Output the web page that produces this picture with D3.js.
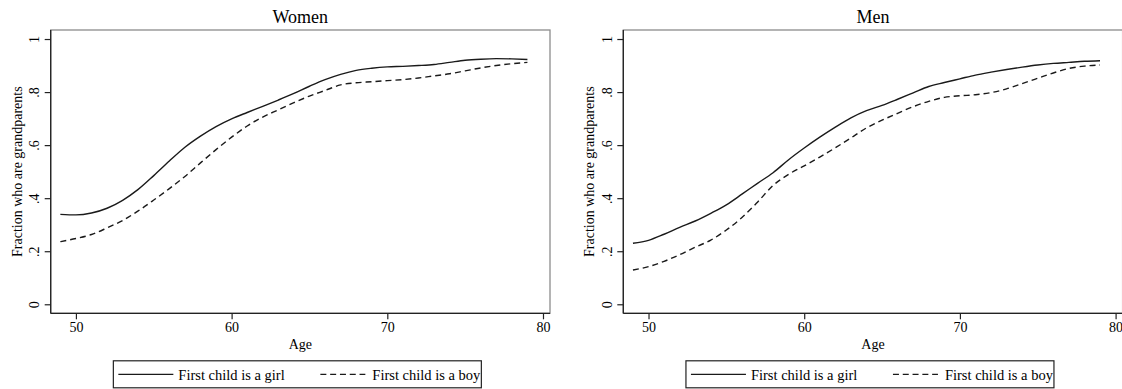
<!DOCTYPE html>
<html>
<head>
<meta charset="utf-8">
<script src="https://cdn.jsdelivr.net/npm/d3@7"></script>
<style>
  body { margin: 0; background: #fff; }
  svg text { font-family: "Liberation Serif", "Times New Roman", serif; fill: #000; }
</style>
</head>
<body>
<div id="chart"></div>
<script>
// --- data ---
const ages = [49,50,51,52,53,54,55,56,57,58,59,60,61,62,63,64,65,66,67,68,69,70,71,72,73,74,75,76,77,78,79];

const womenGirl = [0.339,0.337,0.344,0.362,0.392,0.433,0.485,0.540,0.592,0.634,0.670,0.699,0.723,0.746,0.770,0.795,
  0.822,0.847,0.867,0.882,0.890,0.895,0.897,0.900,0.904,0.912,0.920,0.924,0.926,0.925,0.923];
const womenBoy  = [0.236,0.248,0.263,0.288,0.316,0.352,0.393,0.436,0.482,0.533,0.583,0.630,0.672,0.706,0.733,0.760,
  0.785,0.806,0.827,0.835,0.839,0.843,0.847,0.853,0.861,0.869,0.880,0.891,0.900,0.907,0.912];
const menGirl   = [0.230,0.241,0.264,0.290,0.314,0.343,0.375,0.415,0.456,0.496,0.545,0.589,0.630,0.668,0.703,0.730,
  0.750,0.773,0.797,0.821,0.836,0.850,0.864,0.875,0.885,0.894,0.902,0.908,0.912,0.916,0.918];
const menBoy    = [0.129,0.142,0.162,0.187,0.215,0.242,0.280,0.327,0.385,0.448,0.490,0.522,0.555,0.590,0.627,0.665,
  0.694,0.720,0.745,0.765,0.780,0.786,0.790,0.798,0.812,0.832,0.852,0.872,0.889,0.898,0.902];

const xTicks = [50, 60, 70, 80];
const yTicks = [0, 0.2, 0.4, 0.6, 0.8, 1];
const yTickLabels = ["0", ".2", ".4", ".6", ".8", "1"];
const legendLabels = ["First child is a girl", "First child is a boy"];

// --- layout ---
const W = 1122, H = 389;
const plotW = 499.3, plotH = 283.3, plotTop = 30;
const panels = [
  { title: "Women", left: 50.7, girl: womenGirl, boy: womenBoy },
  { title: "Men",   left: 623.3, girl: menGirl,  boy: menBoy }
];

const svg = d3.select("#chart").append("svg")
  .attr("width", W).attr("height", H);

const x = d3.scaleLinear().domain([48.38, 80.45]).range([0, plotW]);
const y = d3.scaleLinear().domain([-0.034, 1.034]).range([plotH, 0]);

const line = d3.line()
  .x(d => x(d[0])).y(d => y(d[1]))
  .curve(d3.curveMonotoneX);

panels.forEach(p => {
  const g = svg.append("g").attr("transform", `translate(${p.left},${plotTop})`);

  // title
  g.append("text").attr("x", plotW / 2).attr("y", -7)
    .attr("text-anchor", "middle").style("font-size", "18px").text(p.title);

  // frame (top/right lighter)
  g.append("rect").attr("width", plotW).attr("height", plotH)
    .attr("fill", "none").attr("stroke", "#8c8c8c").attr("stroke-width", 1.3);

  // y axis
  const yAx = g.append("g").call(d3.axisLeft(y).tickValues(yTicks).tickSize(6)
    .tickFormat((d, i) => yTickLabels[i]));
  yAx.select(".domain").attr("stroke", "#222").attr("stroke-width", 1.3)
    .attr("d", `M0,0V${plotH}`);
  yAx.selectAll(".tick line").attr("stroke", "#222").attr("stroke-width", 1.2);
  yAx.selectAll(".tick text")
    .attr("x", null).attr("dy", null)
    .attr("text-anchor", "middle").attr("dominant-baseline", "central")
    .attr("transform", "translate(-16,0) rotate(-90)")
    .style("font-size", "14px");

  // x axis
  const xAx = g.append("g").attr("transform", `translate(0,${plotH})`)
    .call(d3.axisBottom(x).tickValues(xTicks).tickSize(6).tickPadding(3));
  xAx.select(".domain").attr("stroke", "#222").attr("stroke-width", 1.3)
    .attr("d", `M0,0H${plotW}`);
  xAx.selectAll(".tick line").attr("stroke", "#222").attr("stroke-width", 1.2);
  xAx.selectAll(".tick text").style("font-size", "14px");

  // axis titles
  g.append("text").attr("x", plotW / 2).attr("y", plotH + 36)
    .attr("text-anchor", "middle").style("font-size", "14px").text("Age");
  g.append("text").attr("transform", "rotate(-90)")
    .attr("x", -plotH / 2).attr("y", -29)
    .attr("text-anchor", "middle").style("font-size", "14px")
    .text("Fraction who are grandparents");

  // series
  const girlPts = ages.map((a, i) => [a, p.girl[i]]);
  const boyPts = ages.map((a, i) => [a, p.boy[i]]);
  g.append("path").attr("d", line(girlPts))
    .attr("fill", "none").attr("stroke", "#1a1a1a").attr("stroke-width", 1.4);
  g.append("path").attr("d", line(boyPts))
    .attr("fill", "none").attr("stroke", "#1a1a1a").attr("stroke-width", 1.4)
    .attr("stroke-dasharray", "6,4");

  // legend
  const lg = g.append("g").attr("transform", `translate(${plotW / 2 - 187},${plotH + 47.5})`);
  lg.append("rect").attr("width", 368).attr("height", 27)
    .attr("fill", "#fff").attr("stroke", "#222").attr("stroke-width", 1.2);
  lg.append("line").attr("x1", 5).attr("x2", 60).attr("y1", 13.5).attr("y2", 13.5)
    .attr("stroke", "#1a1a1a").attr("stroke-width", 1.3);
  lg.append("text").attr("x", 65).attr("y", 19).style("font-size", "14.5px").text(legendLabels[0]);
  lg.append("line").attr("x1", 207).attr("x2", 252).attr("y1", 13.5).attr("y2", 13.5)
    .attr("stroke", "#1a1a1a").attr("stroke-width", 1.3).attr("stroke-dasharray", "6,3.8");
  lg.append("text").attr("x", 259).attr("y", 19).style("font-size", "14.5px").text(legendLabels[1]);
});
</script>
</body>
</html>
